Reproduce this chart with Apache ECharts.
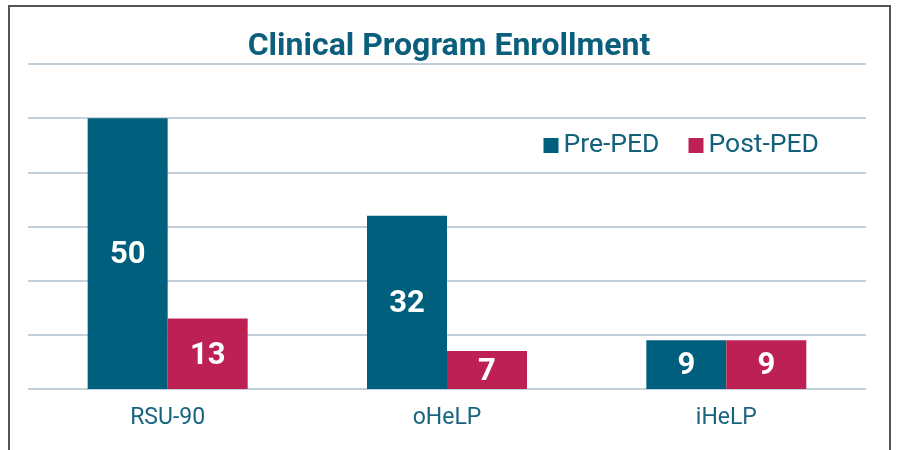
<!DOCTYPE html>
<html>
<head>
<meta charset="utf-8">
<script src="https://cdn.jsdelivr.net/npm/echarts@6/dist/echarts.min.js"></script>
<style>
  html, body { margin: 0; padding: 0; background: #fff; }
  #chart { width: 898px; height: 450px; }
</style>
</head>
<body>
<div id="chart"></div>
<script>
  var categories = ['RSU-90', 'oHeLP', 'iHeLP'];
  var prePed = [50, 32, 9];
  var postPed = [13, 7, 9];

  var dom = document.getElementById('chart');
  var myChart = echarts.init(dom);
  var option = {
    backgroundColor: '#fff',
    graphic: [{
      type: 'rect',
      shape: { x: 9, y: 6, width: 881, height: 460 },
      style: { fill: 'none', stroke: '#555', lineWidth: 2 },
      silent: true
    }],
    title: {
      text: 'Clinical Program Enrollment',
      left: 'center',
      top: 26,
      textStyle: { fontFamily: 'Roboto', fontSize: 32, fontWeight: 'bold', color: '#0b5f7c' }
    },
    legend: {
      data: ['Pre-PED', 'Post-PED'],
      right: 74,
      top: 127,
      itemWidth: 15,
      itemHeight: 15,
      itemGap: 29,
      itemStyle: { borderWidth: 0 },
      icon: 'rect',
      textStyle: { fontFamily: 'Roboto', fontSize: 26.5, color: '#13607b' }
    },
    grid: { left: 28, right: 32, top: 64, bottom: 61 },
    xAxis: {
      type: 'category',
      data: categories,
      axisLine: { show: false },
      axisTick: { show: false },
      axisLabel: { fontFamily: 'Roboto', fontSize: 23, color: '#18647f', margin: 18 }
    },
    yAxis: {
      type: 'value',
      min: 0,
      max: 60,
      interval: 10,
      axisLabel: { show: false },
      axisLine: { show: false },
      axisTick: { show: false },
      splitLine: { lineStyle: { color: '#c3cfda', width: 2 } }
    },
    series: [
      {
        name: 'Pre-PED',
        type: 'bar',
        data: prePed,
        barWidth: 80,
        barGap: '0%',
        itemStyle: { color: '#015f7e' },
        label: {
          show: true, position: 'inside', offset: [0, 2],
          fontFamily: 'Roboto', fontSize: 31, fontWeight: 'bold', color: '#fff'
        }
      },
      {
        name: 'Post-PED',
        type: 'bar',
        data: postPed,
        barWidth: 80,
        itemStyle: { color: '#bd2052' },
        label: {
          show: true, position: 'inside', offset: [0, 2],
          fontFamily: 'Roboto', fontSize: 31, fontWeight: 'bold', color: '#fff'
        }
      }
    ]
  };
  myChart.setOption(option);
</script>
</body>
</html>
